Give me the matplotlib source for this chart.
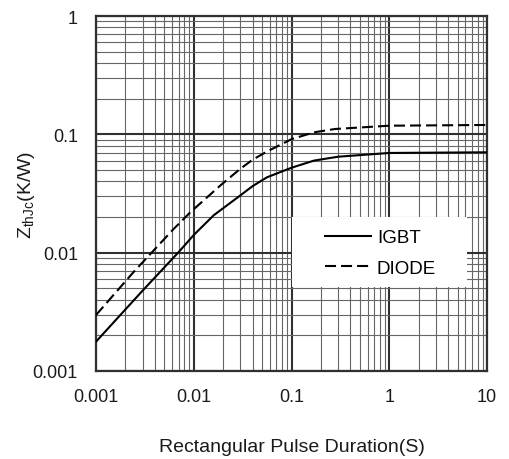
import matplotlib
matplotlib.use("Agg")
import matplotlib.pyplot as plt
from matplotlib.patches import Rectangle
from matplotlib.ticker import LogLocator, NullFormatter, FixedLocator, FixedFormatter

plt.rcParams['font.family'] = ['Liberation Sans', 'DejaVu Sans']
plt.rcParams['mathtext.fontset'] = 'custom'
plt.rcParams['mathtext.rm'] = 'Liberation Sans'
plt.rcParams['mathtext.it'] = 'Liberation Sans:italic'

# Transient thermal impedance, junction to case
t_igbt = [0.001, 0.003, 0.007, 0.01, 0.016, 0.03, 0.04, 0.056, 0.1, 0.17, 0.3, 1.0, 10.0]
z_igbt = [0.00177, 0.00478, 0.0101, 0.0141, 0.0207, 0.0305, 0.0365, 0.0433, 0.0522,
          0.0600, 0.0647, 0.0696, 0.0705]

t_diode = [0.001, 0.0024, 0.0062, 0.0092, 0.0186, 0.0297, 0.04, 0.056, 0.1, 0.17, 0.28,
           0.37, 1.0, 10.0]
z_diode = [0.00297, 0.0068, 0.0158, 0.0219, 0.0368, 0.0509, 0.061, 0.0715, 0.091, 0.104,
           0.111, 0.1125, 0.1183, 0.120]

x_ticks = [0.001, 0.01, 0.1, 1, 10]
x_labels = ['0.001', '0.01', '0.1', '1', '10']
y_ticks = [0.001, 0.01, 0.1, 1]
y_labels = ['0.001', '0.01', '0.1', '1']

fig = plt.figure(figsize=(5.09, 4.60), dpi=100)
ax = fig.add_axes([96 / 509, 88 / 460, 391 / 509, 355 / 460])
ax.set_xscale('log')
ax.set_yscale('log')
ax.set_xlim(0.001, 10)
ax.set_ylim(0.001, 1)
ax.set_axisbelow(True)

ax.xaxis.set_major_locator(FixedLocator(x_ticks))
ax.xaxis.set_major_formatter(FixedFormatter(x_labels))
ax.yaxis.set_major_locator(FixedLocator(y_ticks))
ax.yaxis.set_major_formatter(FixedFormatter(y_labels))
for axis in (ax.xaxis, ax.yaxis):
    axis.set_minor_locator(LogLocator(base=10, subs=range(2, 10), numticks=20))
    axis.set_minor_formatter(NullFormatter())

ax.grid(which='major', color='#303030', linewidth=1.5)
ax.grid(which='minor', color='#666666', linewidth=0.8)
ax.tick_params(which='both', length=0, labelsize=13, colors='#1a1a1a')
ax.tick_params(axis='x', pad=12)
ax.tick_params(axis='y', pad=13)
for s in ax.spines.values():
    s.set_color('#303030')
    s.set_linewidth(1.6)

# Legend area
ax.add_patch(Rectangle((0.501, 0.2366), 0.448, 0.1972, transform=ax.transAxes,
                       facecolor='white', edgecolor='none', zorder=1))

ax.plot(t_igbt, z_igbt, color='black', linewidth=1.5, label='IGBT', zorder=3)
ax.plot(t_diode, z_diode, color='black', linewidth=1.5, dashes=(5.3, 2.4),
        label='DIODE', zorder=3)

ax.legend(loc='upper left', bbox_to_anchor=(0.5857, 0.399), frameon=False,
          borderpad=0, borderaxespad=0, fontsize=13.5, handlelength=2.45,
          handletextpad=0.32, labelspacing=0.71)

ax.set_xlabel('Rectangular Pulse Duration(S)', fontsize=14, labelpad=24, color='#1a1a1a')
ax.set_ylabel(r'$\mathrm{Z_{thJc}}$(K/W)', fontsize=14, color='#1a1a1a')
ax.yaxis.set_label_coords(-0.151, 0.5)

fig.savefig('out.png', dpi=100)
